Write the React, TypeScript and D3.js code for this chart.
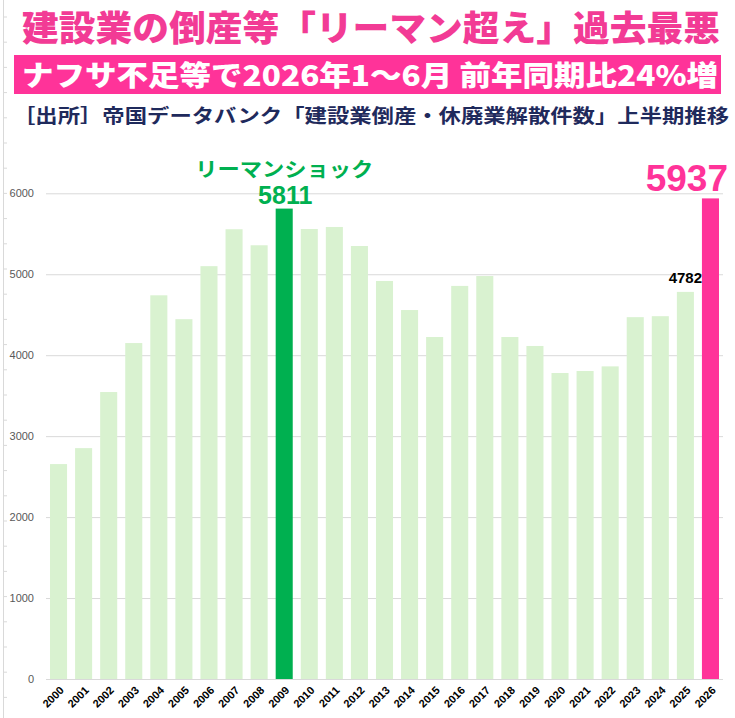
import { useEffect, useRef } from "react";
import * as d3 from "d3";

const years = [
  "2000", "2001", "2002", "2003", "2004", "2005", "2006", "2007", "2008",
  "2009", "2010", "2011", "2012", "2013", "2014", "2015", "2016", "2017",
  "2018", "2019", "2020", "2021", "2022", "2023", "2024", "2025", "2026",
];
const counts = [
  2655, 2852, 3545, 4150, 4740, 4445, 5100, 5556, 5358,
  5811, 5559, 5584, 5349, 4917, 4558, 4225, 4856, 4978,
  4225, 4114, 3780, 3805, 3862, 4470, 4482, 4782, 5937,
];
const yTicks = [0, 1000, 2000, 3000, 4000, 5000, 6000];

const title = "建設業の倒産等「リーマン超え」過去最悪";
const subtitle = "ナフサ不足等で2026年1～6月 前年同期比24%増";
const source = "［出所］帝国データバンク「建設業倒産・休廃業解散件数」上半期推移";
const lehmanLabel = "リーマンショック";

const W = 735;
const H = 718;
const PINK = "#ff3399";
const GREEN = "#00b050";
const LIGHT = "#d9f2d0";
const JP = "'Noto Sans CJK JP', sans-serif";
const LAT = "'Liberation Sans', Arial, sans-serif";

function drawChart(svgEl: SVGSVGElement) {
  const svg = d3.select(svgEl);
  svg.selectAll("*").remove();

  const marginLeft = 46;
  const marginRight = 12;
  const y0 = 679;
  const y6000 = 193.3;

  const x = d3
    .scaleBand()
    .domain(years)
    .range([marginLeft, W - marginRight])
    .paddingInner(0.32)
    .paddingOuter(0.16);

  const y = d3.scaleLinear().domain([0, 6000]).range([y0, y6000]);

  // faint frame line on the left edge
  const edge = svg.append("g").attr("stroke", "#d9d9d9");
  edge.append("line").attr("x1", 3.5).attr("x2", 3.5).attr("y1", 0).attr("y2", H);
  edge
    .selectAll("line.tk")
    .data(d3.range(17, H, 25.2))
    .join("line")
    .attr("class", "tk")
    .attr("x1", 3.5)
    .attr("x2", 7)
    .attr("y1", (d) => d)
    .attr("y2", (d) => d);

  // gridlines
  svg
    .append("g")
    .selectAll("line")
    .data(yTicks)
    .join("line")
    .attr("x1", marginLeft)
    .attr("x2", W - marginRight)
    .attr("y1", (d) => y(d) + 0.5)
    .attr("y2", (d) => y(d) + 0.5)
    .attr("stroke", "#d9d9d9")
    .attr("stroke-width", 1);

  // y labels
  svg
    .append("g")
    .attr("font-family", LAT)
    .attr("font-size", 11)
    .attr("fill", "#595959")
    .attr("text-anchor", "end")
    .selectAll("text")
    .data(yTicks)
    .join("text")
    .attr("x", 34)
    .attr("y", (d) => y(d) + 4)
    .text((d) => d);

  // bars
  svg
    .append("g")
    .selectAll("rect")
    .data(counts)
    .join("rect")
    .attr("x", (d, i) => x(years[i])!)
    .attr("y", (d) => y(d))
    .attr("width", x.bandwidth())
    .attr("height", (d) => y0 - y(d))
    .attr("fill", (d, i) =>
      years[i] === "2009" ? GREEN : years[i] === "2026" ? PINK : LIGHT,
    );

  // x labels
  svg
    .append("g")
    .attr("font-family", LAT)
    .attr("font-size", 11)
    .attr("font-weight", "bold")
    .attr("fill", "#000")
    .attr("text-anchor", "end")
    .selectAll("text")
    .data(years)
    .join("text")
    .attr("transform", (d) => {
      const cx = x(d)! + x.bandwidth() / 2 + 6;
      return `translate(${cx},${y0 + 12}) rotate(-45)`;
    })
    .text((d) => d);

  // annotations
  const i2009 = years.indexOf("2009");
  const i2025 = years.indexOf("2025");
  const i2026 = years.indexOf("2026");
  const cx2009 = x(years[i2009])! + x.bandwidth() / 2;

  svg
    .append("text")
    .attr("x", cx2009)
    .attr("y", 177)
    .attr("text-anchor", "middle")
    .attr("font-family", JP)
    .attr("font-weight", 700)
    .attr("font-size", 20)
    .attr("fill", GREEN)
    .attr("textLength", 178)
    .attr("lengthAdjust", "spacingAndGlyphs")
    .text(lehmanLabel);

  svg
    .append("text")
    .attr("x", cx2009 + 1)
    .attr("y", y(counts[i2009]) - 5)
    .attr("text-anchor", "middle")
    .attr("font-family", LAT)
    .attr("font-weight", "bold")
    .attr("font-size", 25)
    .attr("fill", GREEN)
    .text(counts[i2009]);

  svg
    .append("text")
    .attr("x", x(years[i2025])! + x.bandwidth() / 2)
    .attr("y", y(counts[i2025]) - 9)
    .attr("text-anchor", "middle")
    .attr("font-family", LAT)
    .attr("font-weight", "bold")
    .attr("font-size", 15)
    .attr("fill", "#000")
    .text(counts[i2025]);

  svg
    .append("text")
    .attr("x", 728)
    .attr("y", y(counts[i2026]) - 7)
    .attr("text-anchor", "end")
    .attr("font-family", LAT)
    .attr("font-weight", "bold")
    .attr("font-size", 37)
    .attr("fill", PINK)
    .text(counts[i2026]);

  // headers
  svg
    .append("text")
    .attr("x", 22)
    .attr("y", 41)
    .attr("font-family", JP)
    .attr("font-weight", 900)
    .attr("font-size", 35)
    .attr("fill", "#f23b95")
    .attr("textLength", 698)
    .attr("lengthAdjust", "spacingAndGlyphs")
    .text(title);

  svg
    .append("rect")
    .attr("x", 14)
    .attr("y", 55)
    .attr("width", 707)
    .attr("height", 39)
    .attr("fill", PINK);

  svg
    .append("text")
    .attr("x", 22)
    .attr("y", 86)
    .attr("font-family", JP)
    .attr("font-weight", 900)
    .attr("font-size", 28)
    .attr("fill", "#fff")
    .attr("textLength", 696)
    .attr("lengthAdjust", "spacingAndGlyphs")
    .text(subtitle);

  svg
    .append("text")
    .attr("x", 13)
    .attr("y", 123)
    .attr("font-family", JP)
    .attr("font-weight", 700)
    .attr("font-size", 19)
    .attr("fill", "#1f2a5c")
    .attr("textLength", 716)
    .attr("lengthAdjust", "spacingAndGlyphs")
    .text(source);
}

export default function App() {
  const ref = useRef<SVGSVGElement>(null);
  useEffect(() => {
    document.body.style.margin = "0";
    if (ref.current) drawChart(ref.current);
  }, []);
  return (
    <svg
      ref={ref}
      width={W}
      height={H}
      viewBox={`0 0 ${W} ${H}`}
      style={{ display: "block", background: "#fff" }}
    />
  );
}
